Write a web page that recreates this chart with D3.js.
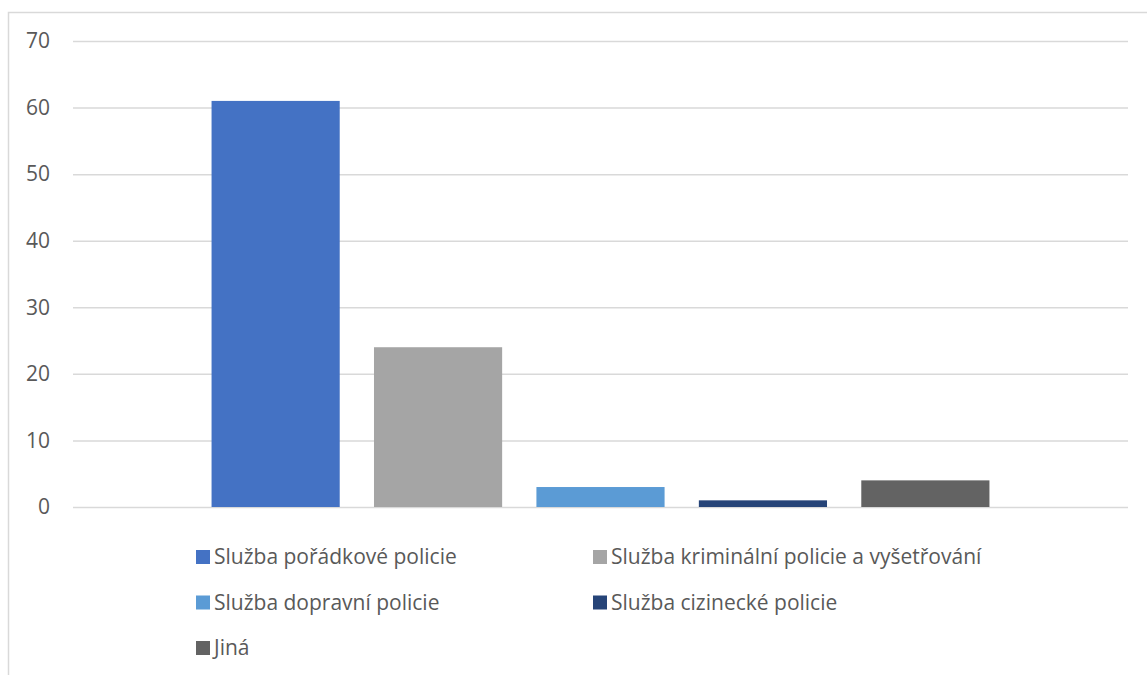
<!DOCTYPE html>
<html>
<head>
<meta charset="utf-8">
<script src="https://cdn.jsdelivr.net/npm/d3@7"></script>
<style>
  body { margin: 0; background: #fff; }
  text { font-family: "Open Sans", "Liberation Sans", sans-serif; fill: #595959; }
</style>
</head>
<body>
<svg id="chart"></svg>
<script>
const series = [
  "Služba pořádkové policie",
  "Služba kriminální policie a vyšetřování",
  "Služba dopravní policie",
  "Služba cizinecké policie",
  "Jiná"
];
const values = [61, 24, 3, 1, 4];
const colors = ["#4472C4", "#A5A5A5", "#5B9BD5", "#264478", "#636363"];
const yTicks = [0, 10, 20, 30, 40, 50, 60, 70];

const svgWidth = 1147;
const svgHeight = 675;
const plot = { left: 73, right: 1128, top: 41, bottom: 507 };

const svg = d3.select("#chart")
  .attr("width", svgWidth)
  .attr("height", svgHeight);

// chart area border (only top and left visible in the crop)
svg.append("path")
  .attr("d", `M8.5,${svgHeight} V12.5 H${svgWidth}`)
  .attr("fill", "none")
  .attr("stroke", "#D9D9D9")
  .attr("stroke-width", 1.5);

const yScale = d3.scaleLinear()
  .domain([0, 70])
  .range([plot.bottom, plot.top]);

const xScale = d3.scaleBand()
  .domain(series)
  .range([plot.left, plot.right])
  .paddingInner(0.211)
  .paddingOuter(0.853);

// gridlines + tick labels
const yAxis = svg.append("g")
  .attr("transform", `translate(${plot.left},0)`)
  .call(d3.axisLeft(yScale)
    .tickValues(yTicks)
    .tickSize(-(plot.right - plot.left))
    .tickPadding(23));

yAxis.select(".domain").remove();
yAxis.selectAll(".tick line")
  .attr("stroke", "#D9D9D9")
  .attr("stroke-width", 1.5);
yAxis.selectAll(".tick text")
  .attr("font-size", "21px")
  .attr("font-family", "'Open Sans', 'Liberation Sans', sans-serif")
  .attr("fill", "#595959");

svg.selectAll(".bar")
  .data(series)
  .enter()
  .append("rect")
  .attr("class", "bar")
  .attr("x", d => xScale(d))
  .attr("y", (d, i) => yScale(values[i]))
  .attr("width", xScale.bandwidth())
  .attr("height", (d, i) => yScale(0) - yScale(values[i]))
  .attr("fill", (d, i) => colors[i]);

// legend, two columns
const legendCols = [196, 593];
const legendRow0 = 557;
const legendRowStep = 45.5;

const legend = svg.selectAll(".legend-item")
  .data(series)
  .enter()
  .append("g")
  .attr("class", "legend-item")
  .attr("transform", (d, i) =>
    `translate(${legendCols[i % 2]},${legendRow0 + Math.floor(i / 2) * legendRowStep})`);

legend.append("rect")
  .attr("x", 0)
  .attr("y", -7)
  .attr("width", 14)
  .attr("height", 14)
  .attr("fill", (d, i) => colors[i]);

legend.append("text")
  .attr("x", 18)
  .attr("dy", "0.35em")
  .attr("font-size", "21px")
  .text(d => d);
</script>
</body>
</html>
